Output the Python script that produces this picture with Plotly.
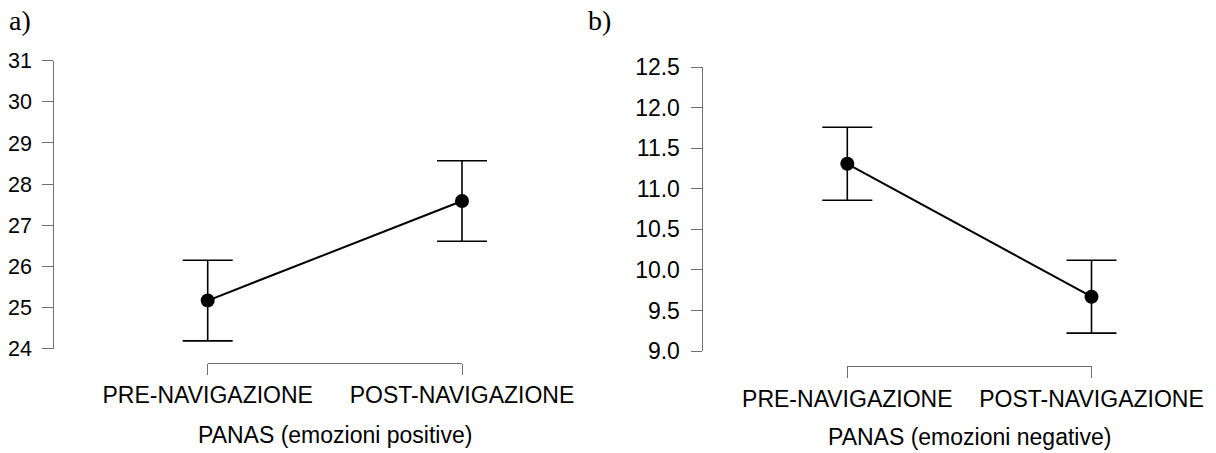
import plotly.graph_objects as go

W, H = 1216, 453

categories = ["PRE-NAVIGAZIONE", "POST-NAVIGAZIONE"]
pos_means = [25.17, 27.59]
pos_err = [0.98, 0.98]
neg_means = [11.31, 9.67]
neg_err = [0.45, 0.45]
pos_ticks = [24, 25, 26, 27, 28, 29, 30, 31]
neg_ticks = [9.0, 9.5, 10.0, 10.5, 11.0, 11.5, 12.0, 12.5]
x_pos = [0, 1]
titles = ["PANAS (emozioni positive)", "PANAS (emozioni negative)"]
panel_tags = ["a)", "b)"]

AXC = "#707070"
FONT = "Liberation Sans, Arial, sans-serif"
SERIF = "Liberation Serif, Times New Roman, serif"
PAD = 0.3
CLEAR = "rgba(0,0,0,0)"

def fx(px):
    return px / W

def fy(py):
    return 1 - py / H

# pixel positions of the two categories per panel
cat_px = [(207.7, 462.0), (847.3, 1091.5)]

def wide_domain(p0, p1):
    d = p1 - p0
    return [fx(p0 - PAD * d), fx(p1 + PAD * d)]

fig = go.Figure()

for means, errs, xa, ya, xb, yb in [(pos_means, pos_err, "x", "y", "x3", "y3"),
                                   (neg_means, neg_err, "x2", "y2", "x4", "y4")]:
    # carrier for the category bracket axis (invisible)
    fig.add_trace(go.Scatter(
        x=x_pos, y=means, xaxis=xb, yaxis=yb, mode="markers",
        marker=dict(opacity=0, size=1), showlegend=False, hoverinfo="skip",
    ))
    fig.add_trace(go.Scatter(
        x=x_pos, y=means, xaxis=xa, yaxis=ya,
        mode="lines+markers",
        line=dict(color="black", width=2),
        marker=dict(color="black", size=14),
        error_y=dict(type="data", array=errs, visible=True, color="black",
                     thickness=1.6, width=25),
        cliponaxis=False, showlegend=False, hoverinfo="skip",
    ))

hidden_x = dict(range=[-PAD, 1 + PAD], visible=False, showgrid=False, zeroline=False,
                automargin=False)
bracket_x = dict(range=[0, 1], tickvals=x_pos, ticktext=categories, showline=True,
                 linecolor=AXC, linewidth=1, ticks="outside", ticklen=11, tickcolor=AXC,
                 tickwidth=1, showgrid=False, zeroline=False, anchor="free",
                 tickangle=0, automargin=False,
                 tickfont=dict(family=FONT, size=23, color="black"),
                 ticklabelstandoff=1)
hidden_y = dict(visible=False, showgrid=False, zeroline=False, automargin=False,
                anchor="free", position=0)
ycommon = dict(showline=True, linecolor=AXC, linewidth=1, ticks="outside", ticklen=11,
               tickcolor=AXC, tickwidth=1, showgrid=False, zeroline=False, anchor="free",
               automargin=False, ticklabelstandoff=6)

fig.update_layout(
    width=W, height=H,
    margin=dict(l=0, r=0, t=0, b=0, autoexpand=False),
    paper_bgcolor="white", plot_bgcolor=CLEAR,
    xaxis=dict(domain=wide_domain(*cat_px[0]), anchor="y", **hidden_x),
    xaxis2=dict(domain=wide_domain(*cat_px[1]), anchor="y2", **hidden_x),
    xaxis3=dict(domain=[fx(cat_px[0][0]), fx(cat_px[0][1])], position=fy(362.7), **bracket_x),
    xaxis4=dict(domain=[fx(cat_px[1][0]), fx(cat_px[1][1])], position=fy(366), **bracket_x),
    yaxis=dict(domain=[fy(348.7), fy(60.7)], range=[24, 31], tickvals=pos_ticks,
               position=fx(53.3), tickfont=dict(family=FONT, size=21.5, color="black"),
               **ycommon),
    yaxis2=dict(domain=[fy(351), fy(67.3)], range=[9, 12.5], tickvals=neg_ticks,
                tickformat=".1f", position=fx(701.5),
                tickfont=dict(family=FONT, size=23, color="black"), **ycommon),
    yaxis3=dict(domain=[fy(348.7), fy(60.7)], range=[24, 31], **hidden_y),
    yaxis4=dict(domain=[fy(351), fy(67.3)], range=[9, 12.5], **hidden_y),
    annotations=[
        dict(text=titles[0], x=fx(sum(cat_px[0]) / 2), y=fy(435), xref="paper", yref="paper",
             xanchor="center", yanchor="middle", showarrow=False,
             font=dict(family=FONT, size=23, color="black")),
        dict(text=titles[1], x=fx(sum(cat_px[1]) / 2), y=fy(437), xref="paper", yref="paper",
             xanchor="center", yanchor="middle", showarrow=False,
             font=dict(family=FONT, size=23, color="black")),
        dict(text=panel_tags[0], x=fx(7), y=fy(20), xref="paper", yref="paper", xanchor="left",
             yanchor="middle", showarrow=False,
             font=dict(family=SERIF, size=28, color="black")),
        dict(text=panel_tags[1], x=fx(586), y=fy(20), xref="paper", yref="paper", xanchor="left",
             yanchor="middle", showarrow=False,
             font=dict(family=SERIF, size=28, color="black")),
    ],
)

fig.write_html("out.html", config={"displayModeBar": False},
               post_script="document.body.style.margin='0';document.body.style.overflow='hidden';")
